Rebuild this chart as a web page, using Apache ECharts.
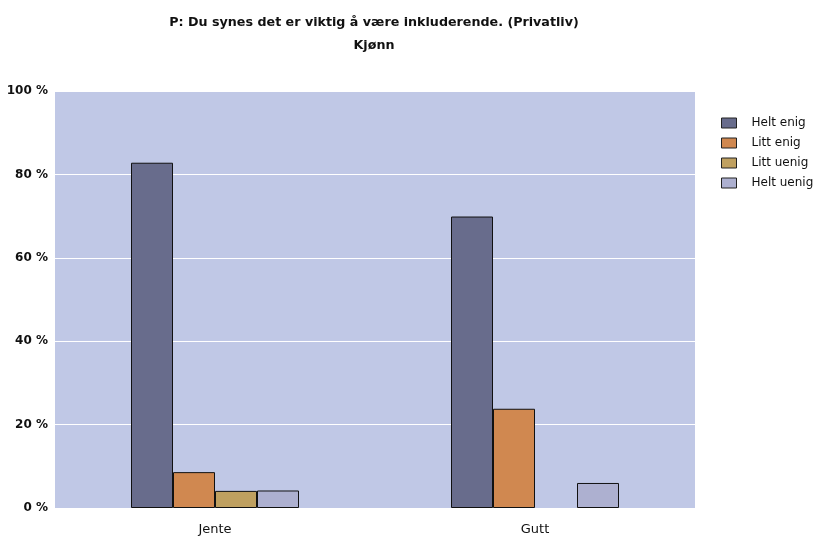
<!DOCTYPE html>
<html>
<head>
<meta charset="utf-8">
<script src="https://cdn.jsdelivr.net/npm/echarts@6/dist/echarts.min.js"></script>
<style>html,body{margin:0;padding:0;background:#fff}#c{width:816px;height:536px}</style>
</head>
<body>
<div id="c"></div>
<script>
const categories = ['Jente', 'Gutt'];
const seriesNames = ['Helt enig', 'Litt enig', 'Litt uenig', 'Helt uenig'];
const heltEnig = [82.8, 69.9];
const littEnig = [8.6, 23.8];
const littUenig = [4.1, null];
const heltUenig = [4.2, 6.0];
const yTicks = [0, 20, 40, 60, 80, 100];
const colors = ['#686c8c', '#d08850', '#bfa060', '#adb0d0'];

const values = [heltEnig, littEnig, littUenig, heltUenig];
const chart = echarts.init(document.getElementById('c'));
chart.setOption({
  animation: false,
  textStyle: { fontFamily: 'DejaVu Sans, Verdana, sans-serif' },
  title: {
    text: 'P: Du synes det er viktig å være inkluderende. (Privatliv)',
    subtext: 'Kjønn',
    left: 369, textAlign: 'center', top: 11, itemGap: 10,
    textStyle: { fontSize: 12.7, fontWeight: 'bold', color: '#111' },
    subtextStyle: { fontSize: 12.7, fontWeight: 'bold', color: '#111' }
  },
  legend: {
    orient: 'vertical', left: 716, top: 110,
    itemWidth: 15, itemHeight: 10, itemGap: 4,
    icon: 'rect',
    textStyle: { fontSize: 12, color: '#111', lineHeight: 13, padding: [0, 0, 3, 10] },
    itemStyle: { borderColor: '#222', borderWidth: 1 },
    data: seriesNames
  },
  grid: {
    left: 55, right: 121, top: 91, bottom: 28,
    show: true, backgroundColor: '#c0c8e6', borderWidth: 0
  },
  xAxis: {
    type: 'category', data: categories,
    axisLine: { show: false }, axisTick: { show: false },
    axisLabel: { fontSize: 13, color: '#111', margin: 15 }
  },
  yAxis: {
    type: 'value', min: yTicks[0], max: yTicks[yTicks.length - 1], interval: 20,
    axisLine: { show: false }, axisTick: { show: false },
    splitLine: { lineStyle: { color: '#ffffff', width: 1 } },
    axisLabel: { formatter: '{value} %', fontSize: 12, fontWeight: 'bold', color: '#111', margin: 7 }
  },
  series: seriesNames.map((n, i) => ({
    name: n, type: 'bar', data: values[i],
    barGap: '0%', barCategoryGap: '47.5%',
    itemStyle: { color: colors[i], borderColor: '#111', borderWidth: 1 }
  }))
});
</script>
</body>
</html>
